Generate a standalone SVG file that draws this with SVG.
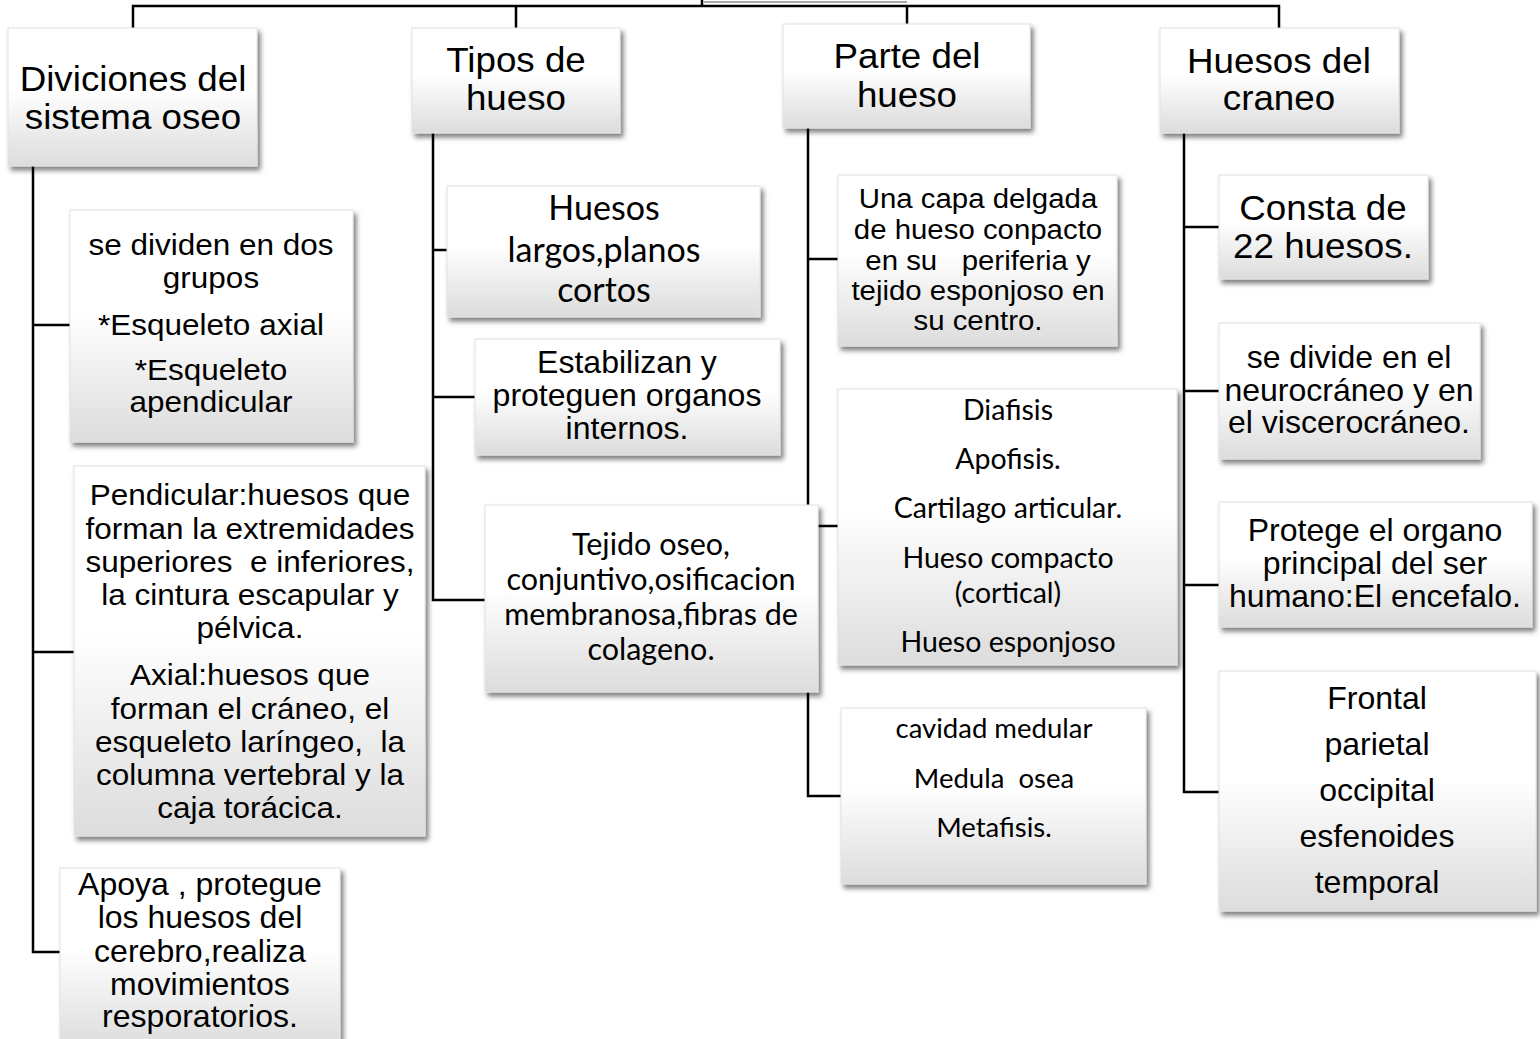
<svg xmlns="http://www.w3.org/2000/svg" width="1540" height="1039" viewBox="0 0 1540 1039">
<defs>
<linearGradient id="g" x1="0" y1="0" x2="0" y2="1">
<stop offset="0" stop-color="#ffffff"/>
<stop offset="0.45" stop-color="#ffffff"/>
<stop offset="1" stop-color="#dcdcdc"/>
</linearGradient>
<filter id="sh" x="-10%" y="-10%" width="125%" height="130%">
<feDropShadow dx="3" dy="4" stdDeviation="2.5" flood-color="#000" flood-opacity="0.5"/>
</filter>
</defs>
<style>
.box{fill:url(#g);stroke:#e2e2e2;stroke-width:1;filter:url(#sh)}
.a{font-family:"Liberation Sans",Arial,sans-serif;fill:#000;text-anchor:middle;white-space:pre}
.c{font-family:Lato,"Liberation Sans",sans-serif;fill:#000;text-anchor:middle;white-space:pre}
.ln{fill:none;stroke:#000;stroke-width:2.5}
</style>
<rect width="1540" height="1039" fill="#fff"/>
<g id="connectors">
<path class="ln" d="M133,28 V6 H1279 V28 M516,6 V28 M907,6 V24 M702,0 V6"/>
<path d="M704,2 H907" stroke="#555" stroke-width="1.2" fill="none"/>
<path class="ln" d="M33,166 V952 H60 M33,325 H70 M33,652 H74"/>
<path class="ln" d="M433,133 V600 H485 M433,250 H447 M433,397 H475"/>
<path class="ln" d="M808,128 V796 H841 M808,259 H838 M808,526 H838"/>
<path class="ln" d="M1184,133 V792 H1219 M1184,227 H1219 M1184,391 H1219 M1184,585 H1219"/>
</g>
<g id="n-diviciones">
<rect class="box" x="8" y="28" width="249" height="138"/>
<text class="a" font-size="35" transform="matrix(1.05 0 0 1 -6.65 0)"><tspan x="133" y="91">Diviciones del</tspan><tspan x="133" y="129">sistema oseo</tspan></text>
</g>
<g id="n-tipos">
<rect class="box" x="412" y="28" width="208" height="105"/>
<text class="a" font-size="35" transform="matrix(1.05 0 0 1 -25.8 0)"><tspan x="516" y="72">Tipos de</tspan><tspan x="516" y="110">hueso</tspan></text>
</g>
<g id="n-parte">
<rect class="box" x="783" y="24" width="247" height="104"/>
<text class="a" font-size="35" transform="matrix(1.05 0 0 1 -45.35 0)"><tspan x="907" y="68">Parte del</tspan><tspan x="907" y="107">hueso</tspan></text>
</g>
<g id="n-craneo">
<rect class="box" x="1160" y="28" width="239" height="105"/>
<text class="a" font-size="35" transform="matrix(1.05 0 0 1 -63.95 0)"><tspan x="1279" y="73">Huesos del</tspan><tspan x="1279" y="110">craneo</tspan></text>
</g>
<g id="n-grupos">
<rect class="box" x="70" y="210" width="283" height="232"/>
<text class="a" font-size="30" transform="matrix(1.05 0 0 1 -10.55 0)"><tspan x="211" y="255">se dividen en dos</tspan><tspan x="211" y="288">grupos</tspan><tspan x="211" y="335">*Esqueleto axial</tspan><tspan x="211" y="380">*Esqueleto</tspan><tspan x="211" y="412">apendicular</tspan></text>
</g>
<g id="n-pendicular">
<rect class="box" x="74" y="466" width="351" height="370"/>
<text class="a" font-size="30" transform="matrix(1.05 0 0 1 -12.5 0)"><tspan x="250" y="505">Pendicular:huesos que</tspan><tspan x="250" y="539">forman la extremidades</tspan><tspan x="250" y="572">superiores  e inferiores,</tspan><tspan x="250" y="605">la cintura escapular y</tspan><tspan x="250" y="638">pélvica.</tspan><tspan x="250" y="685">Axial:huesos que</tspan><tspan x="250" y="719">forman el cráneo, el</tspan><tspan x="250" y="752">esqueleto laríngeo,  la</tspan><tspan x="250" y="785">columna vertebral y la</tspan><tspan x="250" y="818">caja torácica.</tspan></text>
</g>
<g id="n-apoya">
<rect class="box" x="60" y="868" width="280" height="180"/>
<text class="a" font-size="30.5" transform="matrix(1.05 0 0 1 -10 0)"><tspan x="200" y="895">Apoya , protegue</tspan><tspan x="200" y="928">los huesos del</tspan><tspan x="200" y="962">cerebro,realiza</tspan><tspan x="200" y="995">movimientos</tspan><tspan x="200" y="1027">resporatorios.</tspan></text>
</g>
<g id="n-largos">
<rect class="box" x="447" y="186" width="313" height="131"/>
<text class="c" font-size="34"><tspan x="604" y="220">Huesos</tspan><tspan x="604" y="262">largos,planos</tspan><tspan x="604" y="302">cortos</tspan></text>
</g>
<g id="n-estabilizan">
<rect class="box" x="475" y="339" width="305" height="116"/>
<text class="a" font-size="30.5" transform="matrix(1.05 0 0 1 -31.35 0)"><tspan x="627" y="373">Estabilizan y</tspan><tspan x="627" y="406">proteguen organos</tspan><tspan x="627" y="439">internos.</tspan></text>
</g>
<g id="n-tejido">
<rect class="box" x="485" y="505" width="333" height="187"/>
<text class="c" font-size="30.5"><tspan x="651" y="555">Tejido oseo,</tspan><tspan x="651" y="590">conjuntivo,osificacion</tspan><tspan x="651" y="625">membranosa,fibras de</tspan><tspan x="651" y="660">colageno.</tspan></text>
</g>
<g id="n-capa">
<rect class="box" x="838" y="175" width="279" height="171"/>
<text class="a" font-size="28" transform="matrix(1.05 0 0 1 -48.9 0)"><tspan x="978" y="208">Una capa delgada</tspan><tspan x="978" y="239">de hueso conpacto</tspan><tspan x="978" y="270">en su   periferia y</tspan><tspan x="978" y="300">tejido esponjoso en</tspan><tspan x="978" y="330">su centro.</tspan></text>
</g>
<g id="n-diafisis">
<rect class="box" x="838" y="389" width="339" height="276"/>
<text class="c" font-size="28.5"><tspan x="1008" y="420">Diafisis</tspan><tspan x="1008" y="469">Apofisis.</tspan><tspan x="1008" y="518">Cartilago articular.</tspan><tspan x="1008" y="568">Hueso compacto</tspan><tspan x="1008" y="603">(cortical)</tspan><tspan x="1008" y="652">Hueso esponjoso</tspan></text>
</g>
<g id="n-cavidad">
<rect class="box" x="841" y="708" width="305" height="176"/>
<text class="c" font-size="27.5"><tspan x="994" y="738">cavidad medular</tspan><tspan x="994" y="788">Medula  osea</tspan><tspan x="994" y="837">Metafisis.</tspan></text>
</g>
<g id="n-consta">
<rect class="box" x="1219" y="175" width="209" height="104"/>
<text class="a" font-size="35" transform="matrix(1.05 0 0 1 -66.15 0)"><tspan x="1323" y="220">Consta de</tspan><tspan x="1323" y="258">22 huesos.</tspan></text>
</g>
<g id="n-divide">
<rect class="box" x="1219" y="323" width="261" height="136"/>
<text class="a" font-size="30.5" transform="matrix(1.05 0 0 1 -67.45 0)"><tspan x="1349" y="368">se divide en el</tspan><tspan x="1349" y="401">neurocráneo y en</tspan><tspan x="1349" y="433">el viscerocráneo.</tspan></text>
</g>
<g id="n-protege">
<rect class="box" x="1219" y="502" width="313" height="125"/>
<text class="a" font-size="30.5" transform="matrix(1.05 0 0 1 -68.75 0)"><tspan x="1375" y="541">Protege el organo</tspan><tspan x="1375" y="574">principal del ser</tspan><tspan x="1375" y="607">humano:El encefalo.</tspan></text>
</g>
<g id="n-frontal">
<rect class="box" x="1219" y="671" width="317" height="240"/>
<text class="a" font-size="30.5" transform="matrix(1.05 0 0 1 -68.85 0)"><tspan x="1377" y="709">Frontal</tspan><tspan x="1377" y="755">parietal</tspan><tspan x="1377" y="801">occipital</tspan><tspan x="1377" y="847">esfenoides</tspan><tspan x="1377" y="893">temporal</tspan></text>
</g>
</svg>
